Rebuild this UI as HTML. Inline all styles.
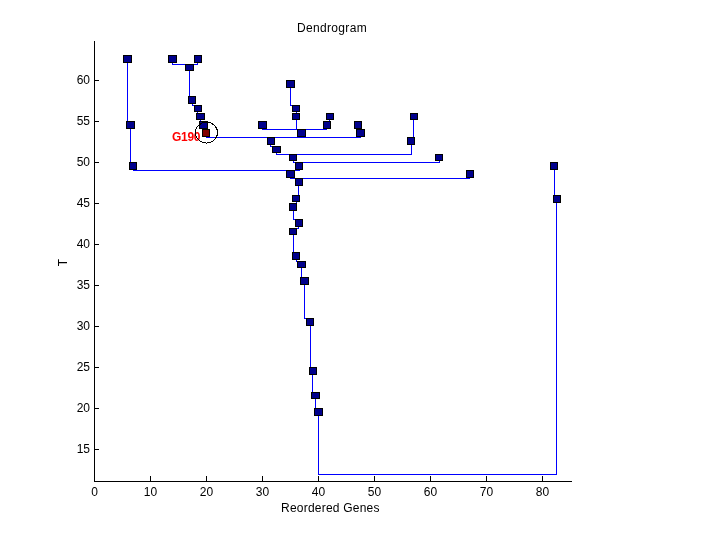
<!DOCTYPE html>
<html><head><meta charset="utf-8"><style>
html,body{margin:0;padding:0;background:#fff;}
svg{display:block;}
.tl{will-change:transform;}
text{font-family:"Liberation Sans",sans-serif;font-size:12px;fill:#000;}
</style></head><body>
<div class="tl"><svg width="720" height="540" viewBox="0 0 720 540">

<g shape-rendering="crispEdges">
<rect x="94" y="41" width="1" height="441" fill="#000"/>
<rect x="94" y="481" width="478" height="1" fill="#000"/>
<rect x="94" y="476" width="1" height="5" fill="#000"/>
<rect x="150" y="476" width="1" height="5" fill="#000"/>
<rect x="206" y="476" width="1" height="5" fill="#000"/>
<rect x="262" y="476" width="1" height="5" fill="#000"/>
<rect x="318" y="476" width="1" height="5" fill="#000"/>
<rect x="374" y="476" width="1" height="5" fill="#000"/>
<rect x="430" y="476" width="1" height="5" fill="#000"/>
<rect x="486" y="476" width="1" height="5" fill="#000"/>
<rect x="542" y="476" width="1" height="5" fill="#000"/>
<rect x="95" y="80" width="4" height="1" fill="#000"/>
<rect x="95" y="121" width="4" height="1" fill="#000"/>
<rect x="95" y="162" width="4" height="1" fill="#000"/>
<rect x="95" y="203" width="4" height="1" fill="#000"/>
<rect x="95" y="244" width="4" height="1" fill="#000"/>
<rect x="95" y="285" width="4" height="1" fill="#000"/>
<rect x="95" y="326" width="4" height="1" fill="#000"/>
<rect x="95" y="367" width="4" height="1" fill="#000"/>
<rect x="95" y="408" width="4" height="1" fill="#000"/>
<rect x="95" y="449" width="4" height="1" fill="#000"/>
<rect x="127" y="59" width="1" height="63" fill="#0000ff"/>
<rect x="127" y="121" width="4" height="1" fill="#0000ff"/>
<rect x="130" y="125" width="1" height="38" fill="#0000ff"/>
<rect x="130" y="162" width="4" height="1" fill="#0000ff"/>
<rect x="133" y="166" width="1" height="5" fill="#0000ff"/>
<rect x="133" y="170" width="158" height="1" fill="#0000ff"/>
<rect x="172" y="59" width="1" height="6" fill="#0000ff"/>
<rect x="172" y="64" width="18" height="1" fill="#0000ff"/>
<rect x="197" y="59" width="1" height="6" fill="#0000ff"/>
<rect x="189" y="64" width="9" height="1" fill="#0000ff"/>
<rect x="189" y="67" width="1" height="30" fill="#0000ff"/>
<rect x="189" y="96" width="4" height="1" fill="#0000ff"/>
<rect x="192" y="100" width="1" height="6" fill="#0000ff"/>
<rect x="192" y="105" width="6" height="1" fill="#0000ff"/>
<rect x="197" y="108" width="1" height="6" fill="#0000ff"/>
<rect x="197" y="113" width="4" height="1" fill="#0000ff"/>
<rect x="200" y="116" width="1" height="6" fill="#0000ff"/>
<rect x="200" y="121" width="4" height="1" fill="#0000ff"/>
<rect x="203" y="125" width="1" height="5" fill="#0000ff"/>
<rect x="203" y="129" width="4" height="1" fill="#0000ff"/>
<rect x="206" y="133" width="1" height="5" fill="#0000ff"/>
<rect x="206" y="137" width="65" height="1" fill="#0000ff"/>
<rect x="290" y="84" width="1" height="22" fill="#0000ff"/>
<rect x="290" y="105" width="7" height="1" fill="#0000ff"/>
<rect x="296" y="108" width="1" height="6" fill="#0000ff"/>
<rect x="296" y="113" width="1" height="1" fill="#0000ff"/>
<rect x="296" y="116" width="1" height="14" fill="#0000ff"/>
<rect x="296" y="129" width="6" height="1" fill="#0000ff"/>
<rect x="262" y="125" width="1" height="5" fill="#0000ff"/>
<rect x="262" y="129" width="40" height="1" fill="#0000ff"/>
<rect x="326" y="125" width="1" height="5" fill="#0000ff"/>
<rect x="301" y="129" width="26" height="1" fill="#0000ff"/>
<rect x="329" y="116" width="1" height="6" fill="#0000ff"/>
<rect x="326" y="121" width="4" height="1" fill="#0000ff"/>
<rect x="358" y="125" width="1" height="5" fill="#0000ff"/>
<rect x="358" y="129" width="3" height="1" fill="#0000ff"/>
<rect x="301" y="133" width="1" height="5" fill="#0000ff"/>
<rect x="270" y="137" width="32" height="1" fill="#0000ff"/>
<rect x="360" y="133" width="1" height="5" fill="#0000ff"/>
<rect x="270" y="137" width="91" height="1" fill="#0000ff"/>
<rect x="413" y="116" width="1" height="22" fill="#0000ff"/>
<rect x="411" y="137" width="3" height="1" fill="#0000ff"/>
<rect x="270" y="141" width="1" height="6" fill="#0000ff"/>
<rect x="270" y="146" width="7" height="1" fill="#0000ff"/>
<rect x="276" y="149" width="1" height="6" fill="#0000ff"/>
<rect x="276" y="154" width="18" height="1" fill="#0000ff"/>
<rect x="411" y="141" width="1" height="14" fill="#0000ff"/>
<rect x="293" y="154" width="119" height="1" fill="#0000ff"/>
<rect x="293" y="157" width="1" height="6" fill="#0000ff"/>
<rect x="293" y="162" width="7" height="1" fill="#0000ff"/>
<rect x="439" y="157" width="1" height="6" fill="#0000ff"/>
<rect x="299" y="162" width="141" height="1" fill="#0000ff"/>
<rect x="299" y="166" width="1" height="5" fill="#0000ff"/>
<rect x="290" y="170" width="10" height="1" fill="#0000ff"/>
<rect x="290" y="174" width="1" height="5" fill="#0000ff"/>
<rect x="290" y="178" width="9" height="1" fill="#0000ff"/>
<rect x="469" y="174" width="1" height="5" fill="#0000ff"/>
<rect x="298" y="178" width="172" height="1" fill="#0000ff"/>
<rect x="298" y="182" width="1" height="14" fill="#0000ff"/>
<rect x="296" y="195" width="3" height="1" fill="#0000ff"/>
<rect x="296" y="198" width="1" height="6" fill="#0000ff"/>
<rect x="293" y="203" width="4" height="1" fill="#0000ff"/>
<rect x="293" y="207" width="1" height="13" fill="#0000ff"/>
<rect x="293" y="219" width="6" height="1" fill="#0000ff"/>
<rect x="298" y="223" width="1" height="6" fill="#0000ff"/>
<rect x="293" y="228" width="6" height="1" fill="#0000ff"/>
<rect x="293" y="231" width="1" height="22" fill="#0000ff"/>
<rect x="293" y="252" width="4" height="1" fill="#0000ff"/>
<rect x="296" y="256" width="1" height="6" fill="#0000ff"/>
<rect x="296" y="261" width="6" height="1" fill="#0000ff"/>
<rect x="301" y="264" width="1" height="14" fill="#0000ff"/>
<rect x="301" y="277" width="4" height="1" fill="#0000ff"/>
<rect x="304" y="281" width="1" height="38" fill="#0000ff"/>
<rect x="304" y="318" width="7" height="1" fill="#0000ff"/>
<rect x="310" y="322" width="1" height="46" fill="#0000ff"/>
<rect x="310" y="367" width="3" height="1" fill="#0000ff"/>
<rect x="312" y="371" width="1" height="22" fill="#0000ff"/>
<rect x="312" y="392" width="4" height="1" fill="#0000ff"/>
<rect x="315" y="395" width="1" height="14" fill="#0000ff"/>
<rect x="315" y="408" width="4" height="1" fill="#0000ff"/>
<rect x="318" y="412" width="1" height="63" fill="#0000ff"/>
<rect x="318" y="474" width="239" height="1" fill="#0000ff"/>
<rect x="554" y="166" width="1" height="30" fill="#0000ff"/>
<rect x="554" y="195" width="3" height="1" fill="#0000ff"/>
<rect x="556" y="199" width="1" height="276" fill="#0000ff"/>
<rect x="556" y="474" width="1" height="1" fill="#0000ff"/>
<rect x="123.5" y="55.5" width="8" height="7" fill="#00008c" stroke="#000" stroke-width="1"/>
<rect x="168.5" y="55.5" width="8" height="7" fill="#00008c" stroke="#000" stroke-width="1"/>
<rect x="194.5" y="55.5" width="7" height="7" fill="#00008c" stroke="#000" stroke-width="1"/>
<rect x="185.5" y="64.5" width="8" height="6" fill="#00008c" stroke="#000" stroke-width="1"/>
<rect x="188.5" y="96.5" width="7" height="7" fill="#00008c" stroke="#000" stroke-width="1"/>
<rect x="194.5" y="105.5" width="7" height="6" fill="#00008c" stroke="#000" stroke-width="1"/>
<rect x="196.5" y="113.5" width="8" height="6" fill="#00008c" stroke="#000" stroke-width="1"/>
<rect x="199.5" y="121.5" width="8" height="7" fill="#00008c" stroke="#000" stroke-width="1"/>
<rect x="202.5" y="129.5" width="7" height="7" fill="#800000" stroke="#000" stroke-width="1"/>
<rect x="126.5" y="121.5" width="8" height="7" fill="#00008c" stroke="#000" stroke-width="1"/>
<rect x="129.5" y="162.5" width="7" height="7" fill="#00008c" stroke="#000" stroke-width="1"/>
<rect x="286.5" y="80.5" width="8" height="7" fill="#00008c" stroke="#000" stroke-width="1"/>
<rect x="292.5" y="105.5" width="7" height="6" fill="#00008c" stroke="#000" stroke-width="1"/>
<rect x="292.5" y="113.5" width="7" height="6" fill="#00008c" stroke="#000" stroke-width="1"/>
<rect x="326.5" y="113.5" width="7" height="6" fill="#00008c" stroke="#000" stroke-width="1"/>
<rect x="258.5" y="121.5" width="8" height="7" fill="#00008c" stroke="#000" stroke-width="1"/>
<rect x="323.5" y="121.5" width="7" height="7" fill="#00008c" stroke="#000" stroke-width="1"/>
<rect x="354.5" y="121.5" width="7" height="7" fill="#00008c" stroke="#000" stroke-width="1"/>
<rect x="410.5" y="113.5" width="7" height="6" fill="#00008c" stroke="#000" stroke-width="1"/>
<rect x="297.5" y="129.5" width="8" height="7" fill="#00008c" stroke="#000" stroke-width="1"/>
<rect x="356.5" y="129.5" width="8" height="7" fill="#00008c" stroke="#000" stroke-width="1"/>
<rect x="267.5" y="137.5" width="7" height="7" fill="#00008c" stroke="#000" stroke-width="1"/>
<rect x="272.5" y="146.5" width="8" height="6" fill="#00008c" stroke="#000" stroke-width="1"/>
<rect x="407.5" y="137.5" width="7" height="7" fill="#00008c" stroke="#000" stroke-width="1"/>
<rect x="289.5" y="154.5" width="7" height="6" fill="#00008c" stroke="#000" stroke-width="1"/>
<rect x="435.5" y="154.5" width="7" height="6" fill="#00008c" stroke="#000" stroke-width="1"/>
<rect x="295.5" y="162.5" width="7" height="7" fill="#00008c" stroke="#000" stroke-width="1"/>
<rect x="286.5" y="170.5" width="8" height="7" fill="#00008c" stroke="#000" stroke-width="1"/>
<rect x="466.5" y="170.5" width="7" height="7" fill="#00008c" stroke="#000" stroke-width="1"/>
<rect x="295.5" y="178.5" width="7" height="7" fill="#00008c" stroke="#000" stroke-width="1"/>
<rect x="292.5" y="195.5" width="7" height="6" fill="#00008c" stroke="#000" stroke-width="1"/>
<rect x="289.5" y="203.5" width="7" height="7" fill="#00008c" stroke="#000" stroke-width="1"/>
<rect x="295.5" y="219.5" width="7" height="7" fill="#00008c" stroke="#000" stroke-width="1"/>
<rect x="289.5" y="228.5" width="7" height="6" fill="#00008c" stroke="#000" stroke-width="1"/>
<rect x="292.5" y="252.5" width="7" height="7" fill="#00008c" stroke="#000" stroke-width="1"/>
<rect x="297.5" y="261.5" width="8" height="6" fill="#00008c" stroke="#000" stroke-width="1"/>
<rect x="300.5" y="277.5" width="8" height="7" fill="#00008c" stroke="#000" stroke-width="1"/>
<rect x="306.5" y="318.5" width="7" height="7" fill="#00008c" stroke="#000" stroke-width="1"/>
<rect x="309.5" y="367.5" width="7" height="7" fill="#00008c" stroke="#000" stroke-width="1"/>
<rect x="311.5" y="392.5" width="8" height="6" fill="#00008c" stroke="#000" stroke-width="1"/>
<rect x="314.5" y="408.5" width="8" height="7" fill="#00008c" stroke="#000" stroke-width="1"/>
<rect x="550.5" y="162.5" width="7" height="7" fill="#00008c" stroke="#000" stroke-width="1"/>
<rect x="553.5" y="195.5" width="7" height="7" fill="#00008c" stroke="#000" stroke-width="1"/>
</g>
<g>
<text x="94.5" y="496" text-anchor="middle">0</text>
<text x="150.5" y="496" text-anchor="middle">10</text>
<text x="206.5" y="496" text-anchor="middle">20</text>
<text x="262.5" y="496" text-anchor="middle">30</text>
<text x="318.5" y="496" text-anchor="middle">40</text>
<text x="374.5" y="496" text-anchor="middle">50</text>
<text x="430.5" y="496" text-anchor="middle">60</text>
<text x="486.5" y="496" text-anchor="middle">70</text>
<text x="542.5" y="496" text-anchor="middle">80</text>
<text x="90" y="83.5" text-anchor="end">60</text>
<text x="90" y="124.5" text-anchor="end">55</text>
<text x="90" y="165.5" text-anchor="end">50</text>
<text x="90" y="206.5" text-anchor="end">45</text>
<text x="90" y="247.5" text-anchor="end">40</text>
<text x="90" y="288.5" text-anchor="end">35</text>
<text x="90" y="329.5" text-anchor="end">30</text>
<text x="90" y="370.5" text-anchor="end">25</text>
<text x="90" y="411.5" text-anchor="end">20</text>
<text x="90" y="452.5" text-anchor="end">15</text>
<text x="297" y="32" style="letter-spacing:0.33px">Dendrogram</text>
<text x="281" y="512" style="letter-spacing:0.22px">Reordered Genes</text>
<text transform="translate(67,262.5) rotate(-90)" text-anchor="middle">T</text>
<text x="172" y="141" style="font-weight:bold;fill:#ff0000;letter-spacing:-0.3px">G190</text>
<ellipse cx="206.5" cy="132.6" rx="11.1" ry="10.4" fill="none" stroke="#000" stroke-width="1" shape-rendering="crispEdges"/>
</g>
</svg></div>
</body></html>
